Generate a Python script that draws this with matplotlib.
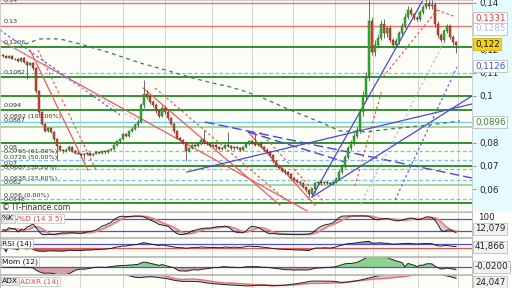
import numpy as np
import pandas as pd
import matplotlib
matplotlib.use("Agg")
import matplotlib.pyplot as plt
from matplotlib.patches import Rectangle

# ---------------- data ----------------
first_open = 0.1175
closes = [
    0.1170, 0.1165, 0.1172, 0.1160, 0.1158, 0.1150, 0.1162, 0.1148, 0.1135, 0.1142,
    0.1120, 0.1020, 0.0930, 0.0880, 0.0850, 0.0862, 0.0845, 0.0815, 0.0785, 0.0770,
    0.0762, 0.0770, 0.0782, 0.0765, 0.0755, 0.0752, 0.0745, 0.0750, 0.0757, 0.0748,
    0.0752, 0.0760, 0.0755, 0.0762, 0.0758, 0.0768, 0.0772, 0.0790, 0.0805, 0.0815,
    0.0835, 0.0830, 0.0850, 0.0860, 0.0875, 0.0890, 0.0960, 0.1010, 0.0995, 0.0975,
    0.0960, 0.0935, 0.0915, 0.0950, 0.0930, 0.0905, 0.0880, 0.0850, 0.0820, 0.0810,
    0.0800, 0.0765, 0.0775, 0.0790, 0.0785, 0.0795, 0.0810, 0.0800, 0.0795, 0.0785,
    0.0790, 0.0780, 0.0772, 0.0778, 0.0790, 0.0785, 0.0775, 0.0782, 0.0778, 0.0770,
    0.0780, 0.0795, 0.0805, 0.0800, 0.0790, 0.0795, 0.0780, 0.0770, 0.0760, 0.0745,
    0.0720, 0.0700, 0.0690, 0.0680, 0.0672, 0.0665, 0.0650, 0.0640, 0.0630, 0.0625,
    0.0610, 0.0595, 0.0580, 0.0600, 0.0625, 0.0630, 0.0625, 0.0632, 0.0628, 0.0622,
    0.0630, 0.0645, 0.0675, 0.0700, 0.0740, 0.0775, 0.0800, 0.0830, 0.0855, 0.0930,
    0.1000, 0.1080, 0.1320, 0.1190, 0.1220, 0.1250, 0.1310, 0.1270, 0.1290, 0.1240,
    0.1220, 0.1235, 0.1270, 0.1300, 0.1340, 0.1370, 0.1350, 0.1335, 0.1330, 0.1360,
    0.1380, 0.1395, 0.1385, 0.1390, 0.1310, 0.1260, 0.1240, 0.1280, 0.1300, 0.1255,
    0.1230, 0.1220]
# wick lengths in units of 0.0001
upper_wick = [
    4, 5, 3, 4, 5, 3, 4, 4, 3, 5,   4, 6, 5, 5, 6, 4, 5, 6, 5, 4,
    4, 5, 6, 4, 3, 4, 3, 5, 4, 3,   4, 5, 3, 4, 4, 5, 4, 6, 5, 6,
    6, 7, 5, 6, 8, 10, 12, 60, 15, 10,   8, 10, 8, 12, 8, 8, 6, 6, 5, 6,
    5, 6, 5, 6, 5, 6, 8, 45, 5, 4,   4, 5, 4, 5, 5, 55, 4, 5, 4, 4,
    5, 5, 6, 5, 40, 5, 10, 5, 6, 4,   5, 6, 4, 5, 6, 4, 5, 4, 5, 5,
    4, 5, 5, 5, 6, 5, 6, 5, 4, 5,   5, 6, 6, 8, 8, 10, 10, 12, 12, 15,
    20, 25, 92, 20, 20, 15, 15, 20, 10, 15,   10, 12, 10, 12, 15, 15, 10, 8, 10, 10,
    10, 20, 15, 20, 15, 10, 10, 8, 10, 8,   8, 6]
lower_wick = [
    3, 4, 4, 3, 5, 4, 3, 5, 60, 4,   10, 8, 6, 5, 4, 5, 5, 8, 60, 5,
    5, 4, 4, 5, 4, 3, 8, 15, 4, 5,   4, 3, 5, 4, 5, 4, 4, 5, 5, 6,
    5, 8, 5, 6, 5, 6, 8, 10, 10, 8,   8, 8, 10, 6, 8, 8, 6, 8, 6, 5,
    5, 45, 5, 4, 5, 4, 5, 6, 5, 6,   5, 6, 5, 4, 6, 5, 6, 5, 4, 5,
    4, 5, 5, 6, 5, 6, 5, 5, 6, 8,   8, 6, 5, 6, 5, 6, 5, 6, 5, 6,
    6, 8, 15, 5, 4, 5, 6, 4, 5, 6,   5, 5, 6, 8, 8, 10, 8, 10, 10, 15,
    15, 20, 15, 15, 20, 15, 10, 20, 15, 10,   15, 10, 10, 10, 10, 10, 8, 10, 10, 10,
    8, 8, 10, 10, 15, 10, 10, 8, 10, 10,   15, 35]

# horizontal levels
red_levels = [0.1399, 0.1300]
green_levels = [0.1210, 0.1082, 0.1000, 0.0940, 0.0800, 0.0700, 0.0541]
light_green_levels = [0.0867, 0.0616]
light_blue_levels = [0.0888]
fib_levels = [0.1100, 0.0765, 0.0726, 0.0687, 0.0638, 0.0560]

# trend lines: (index0, price0, index1, price1)
red_lines = [(0, 0.1232, 102, 0.0502), (9, 0.1197, 28.3, 0.0682),
             (46.7, 0.1034, 92.3, 0.0532), (81.7, 0.0845, 104, 0.0532)]
red_dashed = [(11.7, 0.1197, 31, 0.0682), (50.7, 0.1034, 96.3, 0.0532),
              (85.7, 0.0845, 108, 0.0532), (117.3, 0.0614, 126.3, 0.1026),
              (126.7, 0.1082, 144.7, 0.1369), (144.7, 0.1369, 151, 0.1339)]
blue_lines = [(103, 0.05665, 140, 0.1412), (103, 0.05665, 156.3, 0.1000),
              (61.3, 0.06738, 156.3, 0.09657)]
blue_longdash = [(67.3, 0.08884, 156.3, 0.06481), (81.7, 0.08455, 114, 0.07167)]
blue_dashed = [(130.7, 0.05536, 151.3, 0.11245), (-1, 0.12833, 39, 0.09185)]
lavender_dashed = [(119, 0.05322, 147.3, 0.12403), (-1, 0.12403, 45.7, 0.08884)]

# long moving average (green dashed)
ma_long_x = [7.3, 12.3, 19, 25.7, 35.7, 45.7, 54, 63.3, 69.7, 75.7, 81.3, 86.7,
             95.7, 105.7, 112.3, 120.7, 132.3, 142.3, 152.3]
ma_long_y = [0.1223, 0.1245, 0.1245, 0.1223, 0.1185, 0.1142, 0.1112, 0.1077,
             0.1056, 0.1039, 0.1017, 0.0991, 0.0940, 0.0888, 0.0850, 0.0846,
             0.0863, 0.0876, 0.0893]

month_lines = [25.7, 40, 54, 69.7, 83, 96.7, 110.7, 123.3, 138.3, 151.7]

left_labels = [("0.14", 0.1410), ("0.13", 0.1318), ("0.1206", 0.1228),
               ("0.1082", 0.1099), ("0.094", 0.0961), ("0.0892 (100.00%)", 0.0914),
               ("0.0887", 0.0893), ("0.08", 0.0781), ("0.0765 (61.80%)", 0.0760),
               ("0.0726 (50.00%)", 0.0734), ("0.07", 0.0712), ("0.0687 (38.20%)", 0.0695),
               ("0.0638 (23.60%)", 0.0648), ("0.062", 0.0627), ("0.056 (0.00%)", 0.0571),
               ("0.0548", 0.0556)]
price_ticks = [0.06, 0.07, 0.08, 0.09, 0.10, 0.11, 0.12, 0.13, 0.14]
price_tick_labels = ["0,06", "0,07", "0,08", "", "0,1", "0,11", "0,12", "", "0,14"]

# ---------------- derived OHLC + indicators ----------------
c = pd.Series(closes, dtype=float)
o = c.shift(1).fillna(first_open)
h = np.maximum(o, c) + np.array(upper_wick) * 1e-4
l = np.minimum(o, c) - np.array(lower_wick) * 1e-4
n = len(c)
x = np.arange(n)

ll = l.rolling(14, min_periods=1).min()
hh = h.rolling(14, min_periods=1).max()
fk = 100 * (c - ll) / (hh - ll)
sk = fk.rolling(3, min_periods=1).mean()
sd = sk.rolling(5, min_periods=1).mean()

delta = c.diff().fillna(0)
ag = delta.clip(lower=0).ewm(alpha=1/14, adjust=True).mean()
al = (-delta.clip(upper=0)).ewm(alpha=1/14, adjust=True).mean()
rsi = (100 - 100 / (1 + ag / al.replace(0, np.nan))).fillna(50)

mom = c - c.shift(12).bfill()

pc = c.shift(1).fillna(first_open)
tr = pd.concat([h - l, (h - pc).abs(), (l - pc).abs()], axis=1).max(axis=1)
up_move = h.diff().fillna(0)
dn_move = (-l.diff()).fillna(0)
pdm = np.where((up_move > dn_move) & (up_move > 0), up_move, 0.0)
ndm = np.where((dn_move > up_move) & (dn_move > 0), dn_move, 0.0)
atr = tr.ewm(alpha=1/14, adjust=True).mean()
pdi = 100 * pd.Series(pdm).ewm(alpha=1/14, adjust=True).mean() / atr
ndi = 100 * pd.Series(ndm).ewm(alpha=1/14, adjust=True).mean() / atr
dx = 100 * (pdi - ndi).abs() / (pdi + ndi)
adx = dx.ewm(alpha=1/14, adjust=True).mean()
adxr = (adx + adx.shift(14).bfill()) / 2

# ---------------- figure ----------------
W, H = 512.0, 288.0
fig = plt.figure(figsize=(5.12, 2.88), dpi=100)
fig.patch.set_facecolor("white")
BG = "#fcfdf6"
GRID = "#d6d6d0"
XL = (-1, 156.33)


def box(x0, y0, x1, y1):
    return [x0 / W, 1 - y1 / H, (x1 - x0) / W, (y1 - y0) / H]


fig.add_artist(Rectangle((472 / W, 1 - 211 / H), 40 / W, 211 / H,
                         transform=fig.transFigure, fc="#e6fbff", ec="none", zorder=-5))

ax = fig.add_axes(box(0, 0, 472, 211))
ax.set_facecolor(BG)
ax.set_xlim(*XL)
ax.set_ylim(0.050644, 0.14120)
for s in ax.spines.values():
    s.set_color("#c8c8c8")
    s.set_linewidth(0.6)
ax.set_xticks([])
ax.yaxis.tick_right()
ax.set_yticks(price_ticks)
ax.set_yticklabels(price_tick_labels)
ax.tick_params(axis="y", length=3, width=0.6, color="#888888", pad=2,
               labelsize=6.3, labelcolor="#222222")

for m in month_lines:
    ax.axvline(m, color=GRID, lw=0.7, zorder=0.5)

for lv in red_levels:
    ax.axhline(lv, color="#f07070", lw=1.0, zorder=1)
for lv in green_levels:
    ax.axhline(lv, color="#1f8a1f", lw=1.3, zorder=1)
for lv in light_green_levels:
    ax.axhline(lv, color="#9fd29f", lw=1.3, zorder=1)
for lv in light_blue_levels:
    ax.axhline(lv, color="#79c8f2", lw=1.0, zorder=1)
for lv in fib_levels:
    ax.axhline(lv, color="#6cc6f4", lw=0.9, ls=(0, (3, 2)), zorder=1)

for (x0, y0, x1, y1) in red_lines:
    ax.plot([x0, x1], [y0, y1], color="#f05a5a", lw=0.9, zorder=2)
for (x0, y0, x1, y1) in red_dashed:
    ax.plot([x0, x1], [y0, y1], color="#f05a5a", lw=0.9, ls=(0, (2, 2)), zorder=2)
for (x0, y0, x1, y1) in blue_lines:
    ax.plot([x0, x1], [y0, y1], color="#4a4ad8", lw=0.9, zorder=2)
for (x0, y0, x1, y1) in blue_longdash:
    ax.plot([x0, x1], [y0, y1], color="#4a4ad8", lw=1.0, ls=(0, (7, 3)), zorder=2)
for (x0, y0, x1, y1) in blue_dashed:
    ax.plot([x0, x1], [y0, y1], color="#5a6ae0", lw=0.9, ls=(0, (2, 2)), zorder=2)
for (x0, y0, x1, y1) in lavender_dashed:
    ax.plot([x0, x1], [y0, y1], color="#b8c0ee", lw=0.9, ls=(0, (2, 2)), zorder=2)
ax.plot(ma_long_x, ma_long_y, color="#2f7f4f", lw=0.9, ls=(0, (3, 3)), zorder=2)

# candles
ax.vlines(x, l, h, color="#555555", lw=0.6, zorder=3)
body_lo = np.minimum(o, c)
body_h = np.maximum((c - o).abs(), 0.00025)
upm = (c >= o).values
ax.bar(x[upm], body_h[upm], bottom=body_lo[upm], width=0.75, color="#2db82d",
       edgecolor="#1e5a1e", lw=0.3, zorder=4)
ax.bar(x[~upm], body_h[~upm], bottom=body_lo[~upm], width=0.75, color="#e0452c",
       edgecolor="#5a1e14", lw=0.3, zorder=4)

for txt, yv in left_labels:
    ax.text(0.2, yv, txt, fontsize=4.6, color="#333333", va="center", ha="left",
            zorder=6, clip_on=False)
ax.text(-0.3, 0.0523, "\u00a9 IT-Finance.com", fontsize=5.6, color="#333333",
        va="center", ha="left", zorder=6)


def rlabel(ypx, txt, col, fc="white", ec="#bdbdbd"):
    fig.text(475 / W, 1 - ypx / H, txt, fontsize=6.3, color=col, va="center", ha="left",
             bbox=dict(boxstyle="square,pad=0.18", fc=fc, ec=ec, lw=0.6), zorder=10)


rlabel(18, "0,1331", "#e03a3a")
rlabel(29, "0,1285", "#b4bce6")
rlabel(44, "0,122", "#111111", fc="#f6d21a", ec="#d8b400")
rlabel(66, "0,1126", "#3a55c0")
rlabel(122, "0,0896", "#2f8a3f")


def panel(y0, y1, ylim):
    a = fig.add_axes(box(0, y0, 472, y1))
    a.set_facecolor(BG)
    a.set_xlim(*XL)
    a.set_ylim(*ylim)
    a.set_xticks([])
    a.set_yticks([])
    for s in a.spines.values():
        s.set_color("#b5b5b5")
        s.set_linewidth(0.6)
    for m in month_lines:
        a.axvline(m, color=GRID, lw=0.7, zorder=0.5)
    return a


# Stochastic
a1 = panel(212, 237, (-10, 115))
a1.axhline(80, color="#5050e0", lw=0.9)
a1.axhline(20, color="#5050e0", lw=0.9)
a1.fill_between(x, sk, sd, color="#9aa6d8", alpha=0.5, lw=0)
a1.plot(x, sd, color="#f08080", lw=1.3)
a1.plot(x, sk, color="#222222", lw=0.7)
a1.text(2 / 472, 0.74, "%K", transform=a1.transAxes, fontsize=5.4, color="#111111",
        va="center", ha="left", zorder=8,
        bbox=dict(boxstyle="square,pad=0.15", fc="#e8e8e8", ec="#bdbdbd", lw=0.5))
a1.text(18 / 472, 0.74, "%D (14 3 5)", transform=a1.transAxes, fontsize=5.4,
        color="#e04848", va="center", ha="left", zorder=8,
        bbox=dict(boxstyle="square,pad=0.15", fc="white", ec="#bdbdbd", lw=0.5))
fig.text(478 / W, 1 - 218 / H, "100", fontsize=6.3, color="#222222", va="center")
rlabel(229, "12,079", "#222222", fc="#f2f2f2")

# RSI
a2 = panel(238, 256, (-37, 123))
a2.axhline(70, color="#5050e0", lw=0.9)
a2.axhline(30, color="#f05050", lw=0.9)
a2.fill_between(x, rsi, 70, where=rsi > 70, color="#9a9a9a", lw=0, interpolate=True)
a2.fill_between(x, rsi, 30, where=rsi < 30, color="#b07070", lw=0, interpolate=True)
a2.plot(x, rsi, color="#222222", lw=0.7)
a2.text(2 / 472, 0.7, "RSI (14)", transform=a2.transAxes, fontsize=5.4,
        color="#111111", va="center", ha="left", zorder=8,
        bbox=dict(boxstyle="square,pad=0.15", fc="white", ec="#bdbdbd", lw=0.5))
rlabel(247, "41,866", "#222222", fc="#f2f2f2")

# Momentum
a3 = panel(257, 274, (-0.035, 0.05))
a3.fill_between(x, mom, 0, where=mom > 0, color="#8ed08e", lw=0, interpolate=True)
a3.fill_between(x, mom, 0, where=mom < 0, color="#d8a0a0", lw=0, interpolate=True)
a3.axhline(0, color="#5050e0", lw=0.9)
a3.plot(x, mom, color="#222222", lw=0.7)
a3.text(2 / 472, 0.72, "Mom (12)", transform=a3.transAxes, fontsize=5.4,
        color="#111111", va="center", ha="left", zorder=8,
        bbox=dict(boxstyle="square,pad=0.15", fc="white", ec="#bdbdbd", lw=0.5))
rlabel(267, "-0,0200", "#222222", fc="#f2f2f2")

# ADX
a4 = panel(275, 289, (5, 60))
a4.fill_between(x, adx, adxr, color="#9aa6d8", alpha=0.5, lw=0)
a4.plot(x, adxr, color="#f07070", lw=1.1)
a4.plot(x, adx, color="#222222", lw=0.7)
a4.text(2 / 472, 0.55, "ADX", transform=a4.transAxes, fontsize=5.4,
        color="#111111", va="center", ha="left", zorder=8,
        bbox=dict(boxstyle="square,pad=0.15", fc="#e8e8e8", ec="#bdbdbd", lw=0.5))
a4.text(20 / 472, 0.55, "ADXR (14)", transform=a4.transAxes, fontsize=5.4,
        color="#e04848", va="center", ha="left", zorder=8,
        bbox=dict(boxstyle="square,pad=0.15", fc="white", ec="#bdbdbd", lw=0.5))
rlabel(282, "24,047", "#222222", fc="#f2f2f2")

fig.savefig("out.png", dpi=100, facecolor="white")
